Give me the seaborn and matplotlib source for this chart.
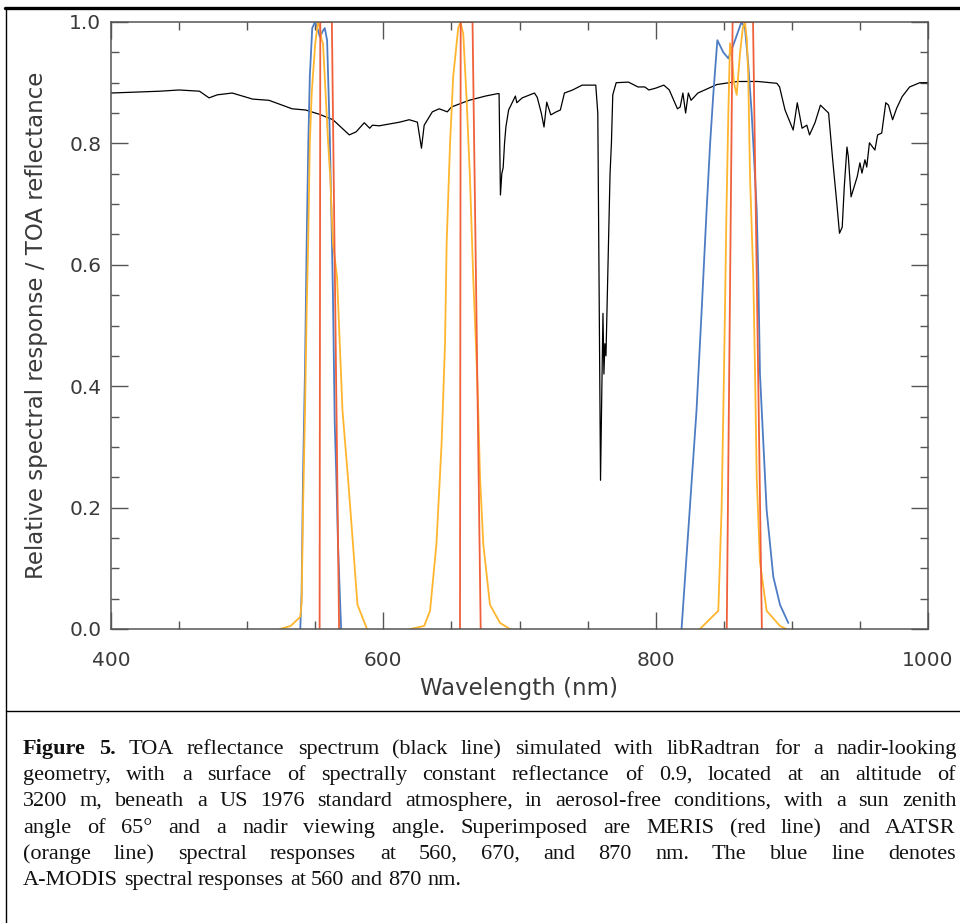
import seaborn as sns
import matplotlib.pyplot as plt
import pandas as pd
from matplotlib.lines import Line2D
from matplotlib.ticker import MultipleLocator, FormatStrFormatter

# TOA reflectance spectrum (black line)
toa_wl = [400, 436, 450, 465, 472, 478, 489, 504, 516, 533, 543, 553, 563, 575, 580,
          586, 590, 592, 597, 612, 619, 625, 628, 630, 636, 641, 647, 650, 663, 675,
          684, 685, 686, 687, 688, 689, 690, 692, 697, 698, 702, 711, 713, 716, 718,
          720, 723, 727, 730, 733, 739, 746, 756, 757.5, 758.5, 759.5, 760.5, 761.3, 762,
          762.7, 763.5, 764.5, 765.5, 766.5, 767.5, 768.5, 771, 780, 787, 792, 795, 800,
          806, 810, 816, 818, 820, 822, 824, 826, 831, 839, 845, 860, 875, 889, 891,
          895, 901, 904, 907.5, 911, 913, 917, 921, 927, 930, 933, 935, 937, 938.5,
          940.5, 941.5, 943.5, 948, 950, 951.5, 953.7, 955, 957, 961, 963, 966, 969,
          971, 974, 977, 981, 986.5, 994, 1000]
toa_refl = [0.883, 0.886, 0.888, 0.886, 0.875, 0.880, 0.883, 0.873, 0.871, 0.857, 0.855,
            0.848, 0.839, 0.814, 0.819, 0.834, 0.825, 0.830, 0.829, 0.835, 0.839, 0.835,
            0.792, 0.830, 0.852, 0.857, 0.852, 0.860, 0.871, 0.878, 0.882, 0.882, 0.715,
            0.750, 0.760, 0.800, 0.827, 0.855, 0.878, 0.867, 0.875, 0.883, 0.876, 0.850,
            0.827, 0.868, 0.847, 0.852, 0.855, 0.883, 0.888, 0.896, 0.896, 0.850, 0.550,
            0.245, 0.400, 0.520, 0.420, 0.470, 0.450, 0.550, 0.650, 0.750, 0.800, 0.880,
            0.900, 0.901, 0.893, 0.893, 0.888, 0.891, 0.896, 0.888, 0.857, 0.860, 0.883,
            0.850, 0.883, 0.871, 0.883, 0.891, 0.897, 0.902, 0.902, 0.899, 0.893, 0.855,
            0.822, 0.867, 0.825, 0.830, 0.814, 0.834, 0.863, 0.850, 0.773, 0.702, 0.652,
            0.662, 0.728, 0.794, 0.778, 0.712, 0.745, 0.768, 0.751, 0.773, 0.761, 0.801,
            0.789, 0.814, 0.817, 0.867, 0.863, 0.839, 0.858, 0.877, 0.893, 0.900, 0.900]

# A-MODIS spectral responses (blue)
modis560_wl = [539, 540, 541, 542.5, 543.7, 544.9, 546, 547.8, 549.8, 551.5, 553.5, 555.5,
               557, 558.7, 560.6, 561.8, 563, 564.3, 565.5, 566.7, 568, 569]
modis560_resp = [0, 0.06, 0.25, 0.43, 0.636, 0.80, 0.91, 0.99, 1.0, 0.99, 0.975, 0.985,
                 0.99, 0.97, 0.82, 0.69, 0.55, 0.34, 0.25, 0.14, 0.06, 0]
modis870_wl = [819, 825, 830, 833.8, 837.4, 840, 842.3, 845.3, 849.7, 853.4, 858.3, 863,
               865.6, 868, 870.5, 872.4, 874.2, 875.4, 876.6, 879, 881.5, 886.4, 891.3, 897.4]
modis870_resp = [0, 0.196, 0.36, 0.526, 0.69, 0.80, 0.88, 0.97, 0.95, 0.94, 0.97, 1.0,
                 0.99, 0.93, 0.85, 0.77, 0.69, 0.58, 0.42, 0.31, 0.196, 0.086, 0.04, 0.01]

# AATSR spectral responses (orange)
aatsr560_wl = [524, 532, 539, 540, 541, 542.5, 543.7, 544.8, 546, 547.4, 550, 552, 553.5,
               554.7, 555.7, 559.5, 561, 563, 566, 568, 570, 574, 577.7, 581, 588]
aatsr560_resp = [0, 0.005, 0.02, 0.043, 0.196, 0.36, 0.526, 0.636, 0.80, 0.883, 0.965, 1.0,
                 0.99, 0.97, 0.965, 0.80, 0.745, 0.635, 0.58, 0.47, 0.36, 0.25, 0.14, 0.04, 0]
aatsr670_wl = [620, 630, 634.3, 639, 642.8, 645.3, 646.5, 649, 651.3, 655, 656.7, 658.7,
               661, 663.6, 666, 668.5, 669.7, 671, 673.4, 678.3, 685.7, 693]
aatsr670_resp = [0, 0.005, 0.03, 0.14, 0.306, 0.47, 0.636, 0.80, 0.91, 0.99, 1.0, 0.98,
                 0.88, 0.745, 0.58, 0.44, 0.36, 0.25, 0.14, 0.04, 0.01, 0]
aatsr870_wl = [832.5, 846, 848.4, 849.7, 850.9, 852, 853.4, 854.6, 855.8, 857.5, 859.5, 862,
               864, 865.6, 867, 868, 869.3, 871.7, 873, 874.2, 876.6, 881.5, 891.3, 896]
aatsr870_resp = [0, 0.03, 0.196, 0.36, 0.526, 0.69, 0.853, 0.965, 0.95, 0.90, 0.88, 0.95,
                 0.99, 1.0, 0.97, 0.91, 0.745, 0.58, 0.42, 0.25, 0.11, 0.03, 0.005, 0]

# MERIS spectral responses (red)
meris560_wl = [553.2, 553.7, 562.2, 567.5]
meris670_wl = [656.3, 656.8, 665.5, 671.5]
meris870_wl = [852.2, 856.5, 871.5, 878.0]
meris_resp = [0, 1, 1, 0]

caption_lines = [
    "Figure 5. TOA reflectance spectrum (black line) simulated with libRadtran for a nadir-looking",
    "geometry, with a surface of spectrally constant reflectance of 0.9, located at an altitude of",
    "3200 m, beneath a US 1976 standard atmosphere, in aerosol-free conditions, with a sun zenith",
    "angle of 65\u00b0 and a nadir viewing angle. Superimposed are MERIS (red line) and AATSR",
    "(orange line) spectral responses at 560, 670, and 870 nm. The blue line denotes",
    "A-MODIS spectral responses at 560 and 870 nm.",
]

sns.set_style("ticks")
plt.rcParams['font.family'] = ['DejaVu Sans']

W, H = 960, 923
fig = plt.figure(figsize=(W / 100, H / 100), dpi=100)
ax = fig.add_axes([111 / W, 1 - 629 / H, (928 - 111) / W, (629 - 22) / H])

BLUE, ORANGE, RED = '#4d7cc4', '#ffb52e', '#f0603a'


def draw(wl, resp, color, lw):
    df = pd.DataFrame({'Wavelength': wl, 'Response': resp})
    sns.lineplot(data=df, x='Wavelength', y='Response', color=color, linewidth=lw,
                 estimator=None, sort=False, ax=ax)


draw(toa_wl, toa_refl, 'black', 0.9)
draw(modis560_wl, modis560_resp, BLUE, 1.3)
draw(modis870_wl, modis870_resp, BLUE, 1.3)
draw(aatsr560_wl, aatsr560_resp, ORANGE, 1.3)
draw(aatsr670_wl, aatsr670_resp, ORANGE, 1.3)
draw(aatsr870_wl, aatsr870_resp, ORANGE, 1.3)
for mwl in (meris560_wl, meris670_wl, meris870_wl):
    draw(mwl, meris_resp, RED, 1.3)

ax.set_xlim(400, 1000)
ax.set_ylim(0, 1.0)
ax.xaxis.set_major_locator(MultipleLocator(200))
ax.xaxis.set_minor_locator(MultipleLocator(50))
ax.yaxis.set_major_locator(MultipleLocator(0.2))
ax.yaxis.set_minor_locator(MultipleLocator(0.05))
ax.yaxis.set_major_formatter(FormatStrFormatter('%.1f'))

txt_col = '#3a3a3a'
for sp in ax.spines.values():
    sp.set_color('#555555')
    sp.set_linewidth(1.1)
ax.tick_params(which='both', direction='in', top=True, right=True, color='#555555',
               width=1.0, labelcolor=txt_col, labelsize=14.5)
ax.tick_params(which='major', length=12)
ax.tick_params(which='minor', length=6)
ax.tick_params(axis='x', which='major', pad=16)
ax.tick_params(axis='y', which='major', pad=7)

ax.set_xlabel('Wavelength (nm)', fontsize=16.5, color=txt_col, labelpad=5)
ax.set_ylabel('Relative spectral response / TOA reflectance', fontsize=16.5,
              color=txt_col, labelpad=15)

# figure frame lines
fig.add_artist(Line2D([5 / W, 1], [1 - 8 / H, 1 - 8 / H], transform=fig.transFigure,
                      color='black', linewidth=2.4))
fig.add_artist(Line2D([6 / W, 6 / W], [0, 1 - 8 / H], transform=fig.transFigure,
                      color='black', linewidth=1.0))
fig.add_artist(Line2D([6 / W, 1], [1 - 711 / H, 1 - 711 / H], transform=fig.transFigure,
                      color='black', linewidth=1.0))

# justified caption, word by word
renderer = fig.canvas.get_renderer()
x0, x1 = 23, 956
cap_size = 16
for i, line in enumerate(caption_lines):
    y = 1 - round(754 + i * 26.2) / H
    words = line.split(' ')
    arts = []
    for j, w in enumerate(words):
        bold = i == 0 and j < 2
        t = fig.text(0, y, w, fontsize=cap_size, family=['Liberation Serif'],
                     fontweight='bold' if bold else 'normal', va='baseline', ha='left',
                     color='#111111')
        arts.append(t)
    widths = [t.get_window_extent(renderer).width for t in arts]
    if i < len(caption_lines) - 1:
        gap = (x1 - x0 - sum(widths)) / (len(words) - 1)
    else:
        gap = cap_size * 100 / 72 * 0.25
    x = x0
    for t, wd in zip(arts, widths):
        t.set_x(round(x) / W)
        x += wd + gap

fig.savefig('out.png', dpi=100)
